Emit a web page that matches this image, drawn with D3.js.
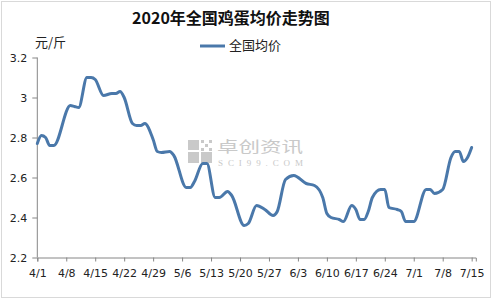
<!DOCTYPE html>
<html><head><meta charset="utf-8">
<script src="https://cdn.jsdelivr.net/npm/d3@7"></script>
<style>body{margin:0;background:#fff}svg{display:block}</style>
</head><body>
<script>
const dates = ["4/1","4/2","4/3","4/4","4/5","4/9","4/10","4/11","4/13","4/14","4/15","4/17","4/19","4/20","4/21","4/22","4/24","4/25","4/26","4/27","4/29","4/30","5/1","5/3","5/4","5/7","5/8","5/9","5/11","5/12","5/14","5/15","5/17","5/18","5/21","5/22","5/24","5/26","5/28","5/29","5/31","6/2","6/5","6/7","6/9","6/10","6/11","6/13","6/14","6/16","6/17","6/18","6/19","6/20","6/21","6/23","6/24","6/25","6/27","6/28","6/29","7/1","7/4","7/5","7/6","7/8","7/10","7/11","7/12","7/13","7/14","7/15"];
const prices = [2.77,2.81,2.80,2.76,2.76,2.96,2.955,2.95,3.10,3.10,3.09,3.01,3.02,3.02,3.03,3.00,2.87,2.86,2.86,2.87,2.79,2.73,2.725,2.73,2.71,2.55,2.55,2.58,2.67,2.67,2.50,2.50,2.53,2.51,2.36,2.37,2.46,2.44,2.41,2.43,2.59,2.61,2.57,2.56,2.50,2.42,2.40,2.39,2.38,2.46,2.44,2.39,2.39,2.43,2.50,2.54,2.54,2.45,2.44,2.43,2.38,2.38,2.54,2.54,2.52,2.54,2.70,2.73,2.73,2.68,2.70,2.75];
const xTickLabels = ["4/1","4/8","4/15","4/22","4/29","5/6","5/13","5/20","5/27","6/3","6/10","6/17","6/24","7/1","7/8","7/15"];
const yTicks = [2.2,2.4,2.6,2.8,3.0,3.2];
const titleText = "2020年全国鸡蛋均价走势图";
const unitText = "元/斤";
const seriesName = "全国均价";

const W = 492, H = 303;
const parse = s => { const [m,d] = s.split("/").map(Number); return new Date(2020, m-1, d); };
const data = dates.map((d,i)=>({date:parse(d), v:prices[i]}));

const svg = d3.select("body").append("svg").attr("width",W).attr("height",H);
svg.append("rect").attr("x",0).attr("y",0).attr("width",W).attr("height",H).attr("fill","#fff");
svg.append("rect").attr("x",1.5).attr("y",1.5).attr("width",489).attr("height",296)
  .attr("fill","#fff").attr("stroke","#d9d9d9").attr("stroke-width",1);

const x = d3.scaleTime().domain([parse("4/1"), parse("7/16")]).range([37.3, 475.8]);
const y = d3.scaleLinear().domain([2.2, 3.2]).range([257.5, 57.5]);

// watermark
const wm = svg.append("g").attr("fill","#c9c9c9");
const lx = 188, ly = 140;
wm.append("rect").attr("x",lx).attr("y",ly).attr("width",11).attr("height",10);
wm.append("rect").attr("x",lx).attr("y",ly+12).attr("width",11).attr("height",11);
wm.append("rect").attr("x",lx+13).attr("y",ly+12).attr("width",11).attr("height",11);
for (let i=0;i<3;i++) for (let j=0;j<3;j++) if ((i+j)%2===0)
  wm.append("rect").attr("x",lx+13+i*4).attr("y",ly+j*4).attr("width",3).attr("height",3);
wm.append("text").attr("x",217).attr("y",152).attr("font-family","Noto Sans CJK SC").attr("font-size",15)
  .attr("textLength",86).attr("lengthAdjust","spacingAndGlyphs").text("卓创资讯");
wm.append("text").attr("x",218).attr("y",166).attr("font-family","Liberation Serif").attr("font-size",9)
  .attr("textLength",85).text("SCI99.COM");

// axes
const axisColor = "#868686";
const yAxis = svg.append("g").attr("transform","translate(37.3,0)")
  .call(d3.axisLeft(y).tickValues(yTicks).tickSize(5).tickFormat(d => d===3 ? "3" : d3.format(".1f")(d)));
const xAxis = svg.append("g").attr("transform","translate(0,257.5)")
  .call(d3.axisBottom(x).tickValues(xTickLabels.map(parse)).tickSize(4).tickFormat(d3.timeFormat("%-m/%-d")));
[yAxis, xAxis].forEach(g => {
  g.select(".domain").attr("stroke",axisColor).attr("stroke-width",1);
  g.selectAll(".tick line").attr("stroke",axisColor);
  g.selectAll("text").attr("fill","#222").attr("font-family","DejaVu Sans").attr("font-size",11);
});
yAxis.select(".domain").attr("d","M0,57.5V257.5");
yAxis.selectAll("text").attr("x",-10);
xAxis.selectAll("text").attr("dy","0.71em").attr("y",12);

// line
const line = d3.line().x(d=>x(d.date)).y(d=>y(d.v)).curve(d3.curveMonotoneX);
svg.append("path").datum(data).attr("d",line).attr("fill","none")
  .attr("stroke","#4a78aa").attr("stroke-width",3).attr("stroke-linejoin","round").attr("stroke-linecap","round");

// title, unit, legend
svg.append("text").attr("x",231).attr("y",24).attr("text-anchor","middle")
  .attr("font-family","Noto Sans CJK SC").attr("font-weight","bold").attr("font-size",16).attr("fill","#111").text(titleText);
svg.append("text").attr("x",35).attr("y",47).attr("font-family","Noto Sans CJK SC").attr("font-size",13).attr("fill","#222").text(unitText);
svg.append("line").attr("x1",200).attr("x2",225).attr("y1",46).attr("y2",46).attr("stroke","#4a78aa").attr("stroke-width",3);
svg.append("text").attr("x",229).attr("y",50).attr("font-family","Noto Sans CJK SC").attr("font-size",13).attr("fill","#222").text(seriesName);
</script>
</body></html>
